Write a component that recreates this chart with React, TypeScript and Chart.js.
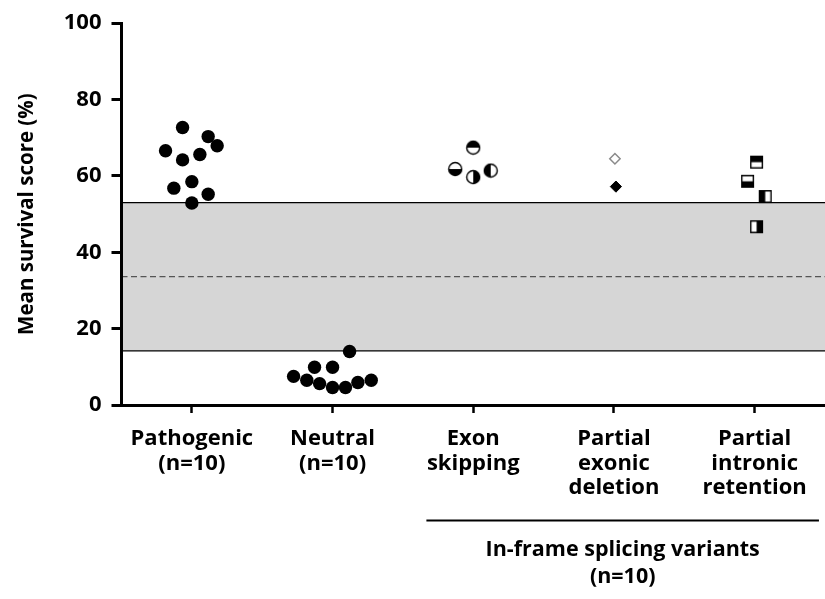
import React, { useEffect, useRef } from 'react';
import { Chart, registerables } from 'chart.js';

Chart.register(...registerables);

// ---- data ----
const categoryLabels: string[][] = [
  ['Pathogenic', '(n=10)'],
  ['Neutral', '(n=10)'],
  ['Exon', 'skipping'],
  ['Partial', 'exonic', 'deletion'],
  ['Partial', 'intronic', 'retention'],
];
const yTickStep = 20;
const yMin = 0;
const yMax = 100;

const pathogenicJitter = [-0.066, 0.116, 0.18, -0.187, 0.057, -0.066, 0, -0.128, 0.116, 0];
const pathogenicScores = [72.7, 70.3, 67.9, 66.6, 65.6, 64.2, 58.5, 56.8, 55.2, 52.9];

const neutralJitter = [0.121, -0.128, 0, -0.277, -0.183, -0.092, 0, 0.092, 0.18, 0.275];
const neutralScores = [14.0, 9.9, 9.9, 7.5, 6.5, 5.6, 4.6, 4.6, 5.9, 6.5];

const exonJitter = [0, -0.128, 0, 0.124];
const exonScores = [67.4, 61.8, 59.7, 61.4];
const exonFill = ['top', 'bottom', 'right', 'left'];

const deletionJitter = [0.007, 0.014];
const deletionScores = [64.5, 57.2];
const deletionFill = ['open', 'solid'];

const intronJitter = [0.014, -0.05, 0.075, 0.014];
const intronScores = [63.6, 58.6, 54.6, 46.7];
const intronFill = ['top', 'bottom', 'left', 'right'];

const bandLow = 14.2;
const bandMid = 33.6;
const bandHigh = 53.0;

const groupLabel = ['In-frame splicing variants', '(n=10)'];
const groupSpan = [1.667, 4.457];

const FONT = "'Open Sans', 'DejaVu Sans', sans-serif";

function halfMarker(shape: 'circle' | 'square', fill: string): HTMLCanvasElement {
  const size = shape === 'circle' ? 16 : 15;
  const c = document.createElement('canvas');
  c.width = size;
  c.height = size;
  const ctx = c.getContext('2d')!;
  const cx = size / 2;
  const cy = size / 2;
  const r = shape === 'circle' ? 6.5 : 5.8;
  const path = () => {
    ctx.beginPath();
    if (shape === 'circle') ctx.arc(cx, cy, r, 0, Math.PI * 2);
    else ctx.rect(cx - r, cy - r, 2 * r, 2 * r);
  };
  path();
  ctx.fillStyle = '#fff';
  ctx.fill();
  ctx.save();
  path();
  ctx.clip();
  ctx.fillStyle = '#000';
  if (fill === 'top') ctx.fillRect(0, 0, size, cy);
  else if (fill === 'bottom') ctx.fillRect(0, cy, size, size - cy);
  else if (fill === 'left') ctx.fillRect(0, 0, cx, size);
  else if (fill === 'right') ctx.fillRect(cx, 0, size - cx, size);
  ctx.restore();
  path();
  ctx.lineWidth = 1.4;
  ctx.strokeStyle = '#000';
  ctx.stroke();
  return c;
}

const toPoints = (center: number, jitter: number[], scores: number[]) =>
  scores.map((v, i) => ({ x: center + jitter[i], y: v }));

const bandPlugin = {
  id: 'normalBand',
  beforeDraw(chart: any) {
    const { ctx, chartArea: a, scales } = chart;
    const y = scales.y;
    const yH = y.getPixelForValue(bandHigh);
    const yL = y.getPixelForValue(bandLow);
    const yM = y.getPixelForValue(bandMid);
    ctx.save();
    ctx.fillStyle = '#d6d6d6';
    ctx.fillRect(a.left, yH, a.right - a.left, yL - yH);
    ctx.strokeStyle = '#000';
    ctx.lineWidth = 1.3;
    ctx.beginPath();
    ctx.moveTo(a.left, yH);
    ctx.lineTo(a.right, yH);
    ctx.moveTo(a.left, yL);
    ctx.lineTo(a.right, yL);
    ctx.stroke();
    ctx.strokeStyle = '#555';
    ctx.setLineDash([6, 3.5]);
    ctx.beginPath();
    ctx.moveTo(a.left, yM);
    ctx.lineTo(a.right, yM);
    ctx.stroke();
    ctx.restore();
  },
};

const groupPlugin = {
  id: 'groupBracket',
  afterDraw(chart: any) {
    const { ctx, chartArea: a, scales } = chart;
    const x = scales.x;
    const x0 = x.getPixelForValue(groupSpan[0]);
    const x1 = x.getPixelForValue(groupSpan[1]);
    const yLine = a.bottom + 115.5;
    ctx.save();
    ctx.strokeStyle = '#000';
    ctx.lineWidth = 2;
    ctx.beginPath();
    ctx.moveTo(x0, yLine);
    ctx.lineTo(x1, yLine);
    ctx.stroke();
    ctx.fillStyle = '#000';
    ctx.font = `bold 21.5px ${FONT}`;
    ctx.textAlign = 'center';
    ctx.textBaseline = 'middle';
    const cx = (x0 + x1) / 2;
    ctx.fillText(groupLabel[0], cx, a.bottom + 145);
    ctx.fillText(groupLabel[1], cx, a.bottom + 171.5);
    ctx.restore();
  },
};

export default function App() {
  const ref = useRef<HTMLCanvasElement | null>(null);

  useEffect(() => {
    if (!ref.current) return;
    Chart.defaults.color = '#000';
    Chart.defaults.font.family = FONT;

    const exonStyles = exonFill.map((f) => halfMarker('circle', f));
    const intronStyles = intronFill.map((f) => halfMarker('square', f));

    const chart = new Chart(ref.current, {
      type: 'scatter',
      data: {
        datasets: [
          {
            label: 'Pathogenic',
            data: toPoints(0, pathogenicJitter, pathogenicScores),
            pointStyle: 'circle',
            pointRadius: 6.7,
            backgroundColor: '#000',
            borderColor: '#000',
            borderWidth: 0,
          },
          {
            label: 'Neutral',
            data: toPoints(1, neutralJitter, neutralScores),
            pointStyle: 'circle',
            pointRadius: 6.7,
            backgroundColor: '#000',
            borderColor: '#000',
            borderWidth: 0,
          },
          {
            label: 'Exon skipping',
            data: toPoints(2, exonJitter, exonScores),
            pointStyle: exonStyles as any,
            pointRadius: 7,
          },
          {
            label: 'Partial exonic deletion',
            data: toPoints(3, deletionJitter, deletionScores),
            pointStyle: 'rectRot',
            pointRadius: deletionFill.map((f) => (f === 'open' ? 5.2 : 5.6)),
            backgroundColor: deletionFill.map((f) => (f === 'open' ? '#fff' : '#000')),
            borderColor: deletionFill.map((f) => (f === 'open' ? '#8a8a8a' : '#000')),
            borderWidth: deletionFill.map((f) => (f === 'open' ? 1.5 : 1)),
          },
          {
            label: 'Partial intronic retention',
            data: toPoints(4, intronJitter, intronScores),
            pointStyle: intronStyles as any,
            pointRadius: 7,
          },
        ],
      },
      options: {
        animation: false,
        responsive: false,
        events: [],
        layout: { autoPadding: false, padding: { top: 17.3, right: 0, left: 0, bottom: 0 } },
        plugins: {
          legend: { display: false },
          tooltip: { enabled: false },
        },
        scales: {
          x: {
            type: 'linear',
            min: -0.5,
            max: 4.5,
            afterBuildTicks: (s: any) => {
              s.ticks = categoryLabels.map((_, i) => ({ value: i }));
            },
            afterFit: (s: any) => {
              s.height = 194;
              s.paddingLeft = 0;
              s.paddingRight = 0;
            },
            grid: {
              display: true,
              drawOnChartArea: false,
              drawTicks: true,
              tickLength: 8,
              tickWidth: 2.5,
              tickColor: '#000',
              color: '#000',
            },
            border: { display: true, color: '#000', width: 3 },
            ticks: {
              autoSkip: false,
              maxRotation: 0,
              minRotation: 0,
              padding: 13,
              color: '#000',
              font: { size: 22, weight: 'bold', lineHeight: 1.13 },
              callback: (v: any) => categoryLabels[Math.round(Number(v))] ?? '',
            },
          },
          y: {
            type: 'linear',
            min: yMin,
            max: yMax,
            afterFit: (s: any) => {
              s.width = 121.5;
            },
            grid: {
              display: true,
              drawOnChartArea: false,
              drawTicks: true,
              tickLength: 10,
              tickWidth: 3,
              tickColor: '#000',
              color: '#000',
            },
            border: { display: true, color: '#000', width: 3 },
            ticks: {
              stepSize: yTickStep,
              padding: 10,
              color: '#000',
              font: { size: 22, weight: 'bold' },
            },
            title: {
              display: true,
              text: 'Mean survival score (%)',
              color: '#000',
              font: { size: 20.5, weight: 'bold' },
              padding: { top: 15, bottom: 0 },
            },
          },
        },
      },
      plugins: [bandPlugin, groupPlugin],
    });
    return () => chart.destroy();
  }, []);

  return (
    <canvas
      ref={ref}
      width={825}
      height={599}
      style={{ position: 'fixed', left: 0, top: 0, display: 'block', background: '#fff' }}
    />
  );
}
